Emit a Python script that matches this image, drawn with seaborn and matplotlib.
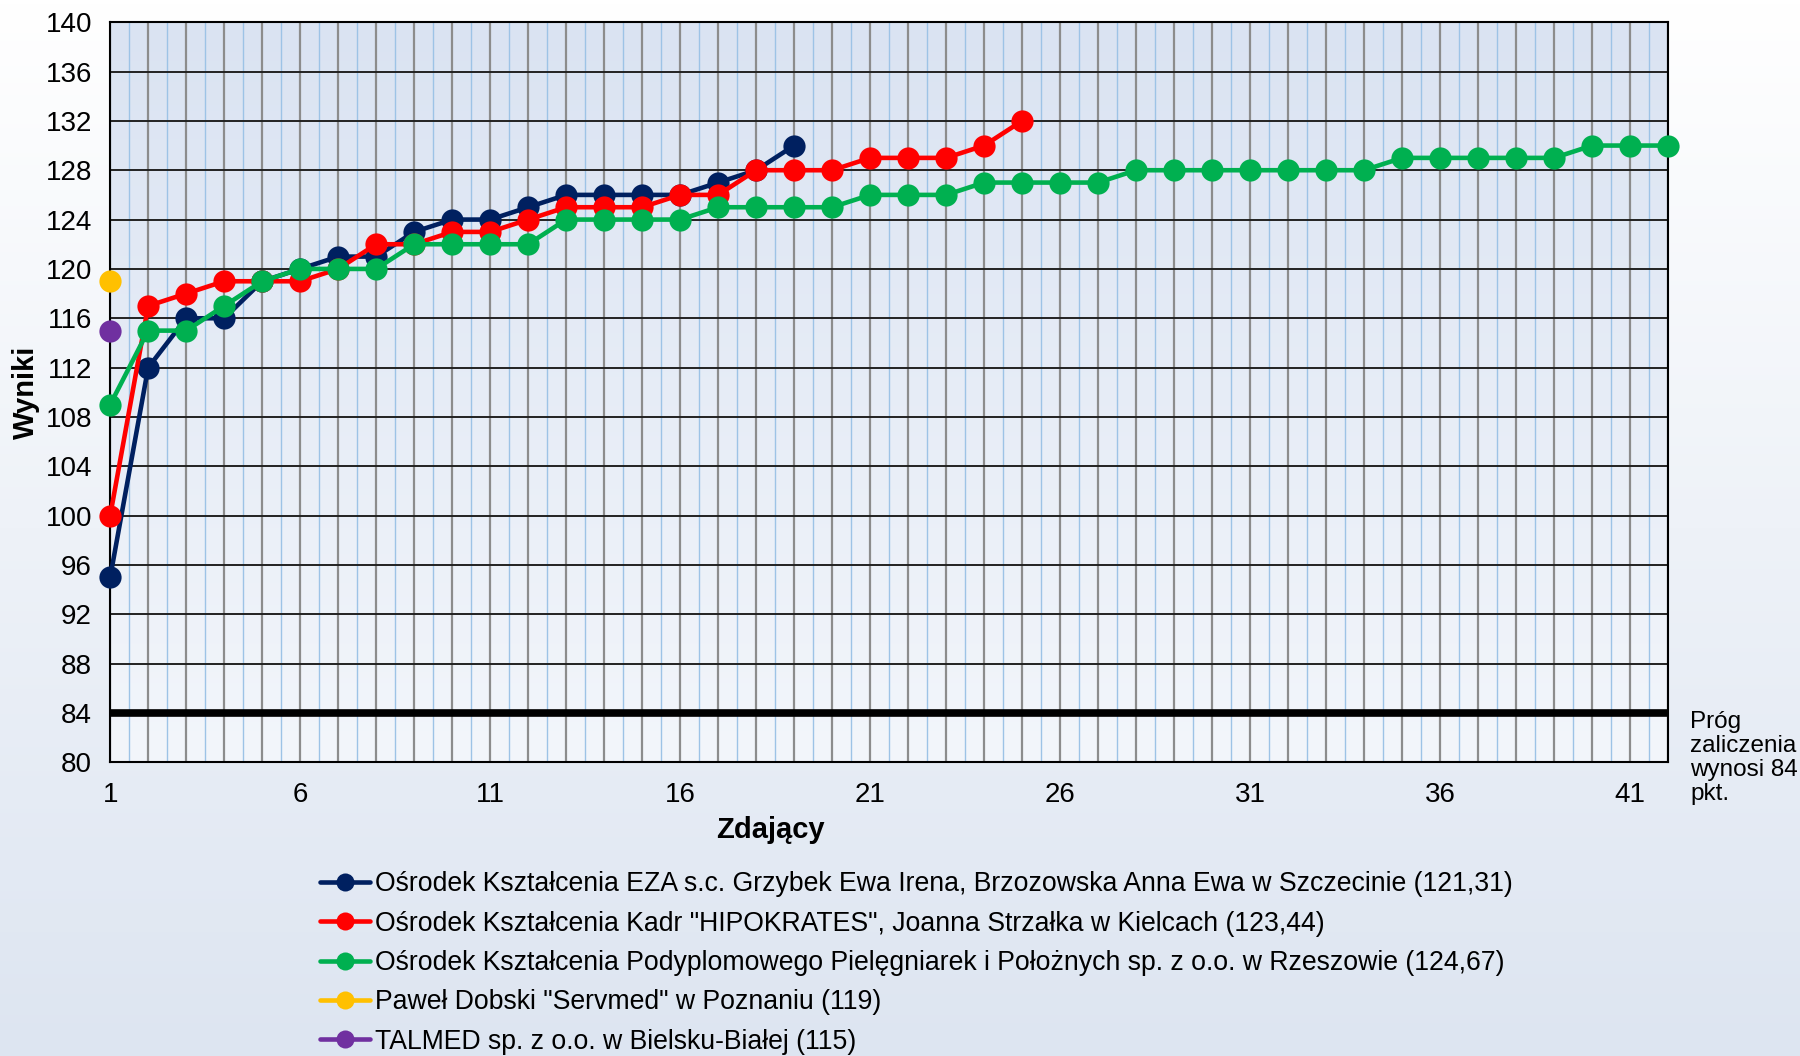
import numpy as np
import pandas as pd
import matplotlib
matplotlib.use("Agg")
import matplotlib.pyplot as plt
import seaborn as sns

# Dane
eza = [95, 112, 116, 116, 119, 120, 121, 121, 123, 124, 124, 125, 126, 126, 126, 126, 127, 128, 130]
hipokrates = [100, 117, 118, 119, 119, 119, 120, 122, 122, 123, 123, 124, 125, 125, 125, 126, 126,
              128, 128, 128, 129, 129, 129, 130, 132]
rzeszow = [109, 115, 115, 117, 119, 120, 120, 120, 122, 122, 122, 122, 124, 124, 124, 124, 125, 125,
           125, 125, 126, 126, 126, 127, 127, 127, 127, 128, 128, 128, 128, 128, 128, 128, 129, 129,
           129, 129, 129, 130, 130, 130]
servmed = [119]
talmed = [115]

names = [
    'Ośrodek Kształcenia EZA s.c. Grzybek Ewa Irena, Brzozowska Anna Ewa w Szczecinie (121,31)',
    'Ośrodek Kształcenia Kadr "HIPOKRATES", Joanna Strzałka w Kielcach (123,44)',
    'Ośrodek Kształcenia Podyplomowego Pielęgniarek i Położnych sp. z o.o. w Rzeszowie (124,67)',
    'Paweł Dobski "Servmed" w Poznaniu (119)',
    'TALMED sp. z o.o. w Bielsku-Białej (115)',
]
colors = ["#002060", "#ff0000", "#00b050", "#ffc000", "#7030a0"]
prog = 84

rows = []
for name, vals in zip(names, [eza, hipokrates, rzeszow, servmed, talmed]):
    for i, v in enumerate(vals):
        rows.append({"Zdający": i + 1, "Wyniki": v, "Ośrodek": name})
df = pd.DataFrame(rows)

sns.set_style("white")
plt.rcParams["font.family"] = ["Liberation Sans", "DejaVu Sans"]
plt.rcParams["text.color"] = "black"
plt.rcParams["xtick.color"] = "black"
plt.rcParams["ytick.color"] = "black"
plt.rcParams["axes.labelcolor"] = "black"

fig = plt.figure(figsize=(18, 10.56), dpi=100)

# tło figury - gradient
bg = fig.add_axes([0, 0, 1, 1], zorder=-10)
g = np.linspace(0, 1, 256).reshape(-1, 1)
bg.imshow(g, cmap=matplotlib.colors.LinearSegmentedColormap.from_list("f", ["#dde5f1", "#ffffff"]),
          aspect="auto", extent=[0, 1, 0, 1], origin="lower")
bg.axis("off")

ax = fig.add_axes([0.0612, 0.278, 0.8655, 0.701])
ax.imshow(g, cmap=matplotlib.colors.LinearSegmentedColormap.from_list("a", ["#f3f6fb", "#dae3f2"]),
          aspect="auto", extent=[0, 1, 0, 1], origin="lower", transform=ax.transAxes, zorder=0)

sns.lineplot(data=df, x="Zdający", y="Wyniki", hue="Ośrodek", palette=colors, marker="o",
             markersize=16, markeredgewidth=0, linewidth=3.3, ax=ax, legend=False, zorder=5)
for ln in ax.lines:
    ln.set_clip_on(False)

ax.axhline(prog, color="black", lw=5.5, zorder=4)

ax.set_xlim(1, 42)
ax.set_ylim(80, 140)
ax.set_yticks(np.arange(80, 141, 4))
ax.set_xticks(np.arange(1, 43))
ax.set_xticklabels([str(i) if (i - 1) % 5 == 0 else "" for i in range(1, 43)])
ax.set_xticks(np.arange(1.5, 42, 1), minor=True)
ax.grid(axis="x", which="major", color="#8c8c8c", lw=1.6, zorder=1)
ax.grid(axis="x", which="minor", color="#9dc3e6", lw=1, zorder=1)
ax.grid(axis="y", which="major", color="#222222", lw=1.4, zorder=1)
ax.set_axisbelow(True)
ax.tick_params(axis="x", which="both", length=0, pad=14, labelsize=20)
ax.tick_params(axis="y", length=8, width=1.2, color="black", labelsize=20, pad=5)
ax.yaxis.set_tick_params(direction="out")
for s in ax.spines.values():
    s.set_color("black")
    s.set_linewidth(1.5)

ax.set_xlabel("Zdający", fontsize=21, fontweight="bold")
ax.set_ylabel("Wyniki", fontsize=21, fontweight="bold", labelpad=4)
ax.xaxis.set_label_coords(0.424, -0.072)

fig.text(0.939, 0.327, "Próg\nzaliczenia\nwynosi 84\npkt.", fontsize=17.5, va="top", ha="left",
         linespacing=1.12)

handles = [plt.Line2D([], [], color=c, lw=3.3, marker="o", markersize=13, markeredgewidth=0)
           for c in colors]
fig.legend(handles, names, loc="upper left", bbox_to_anchor=(0.172, 0.185), frameon=False,
           fontsize=19.2, labelspacing=0.5, handlelength=1.85, handletextpad=0.2, borderaxespad=0)

fig.savefig("out.png", dpi=100)
